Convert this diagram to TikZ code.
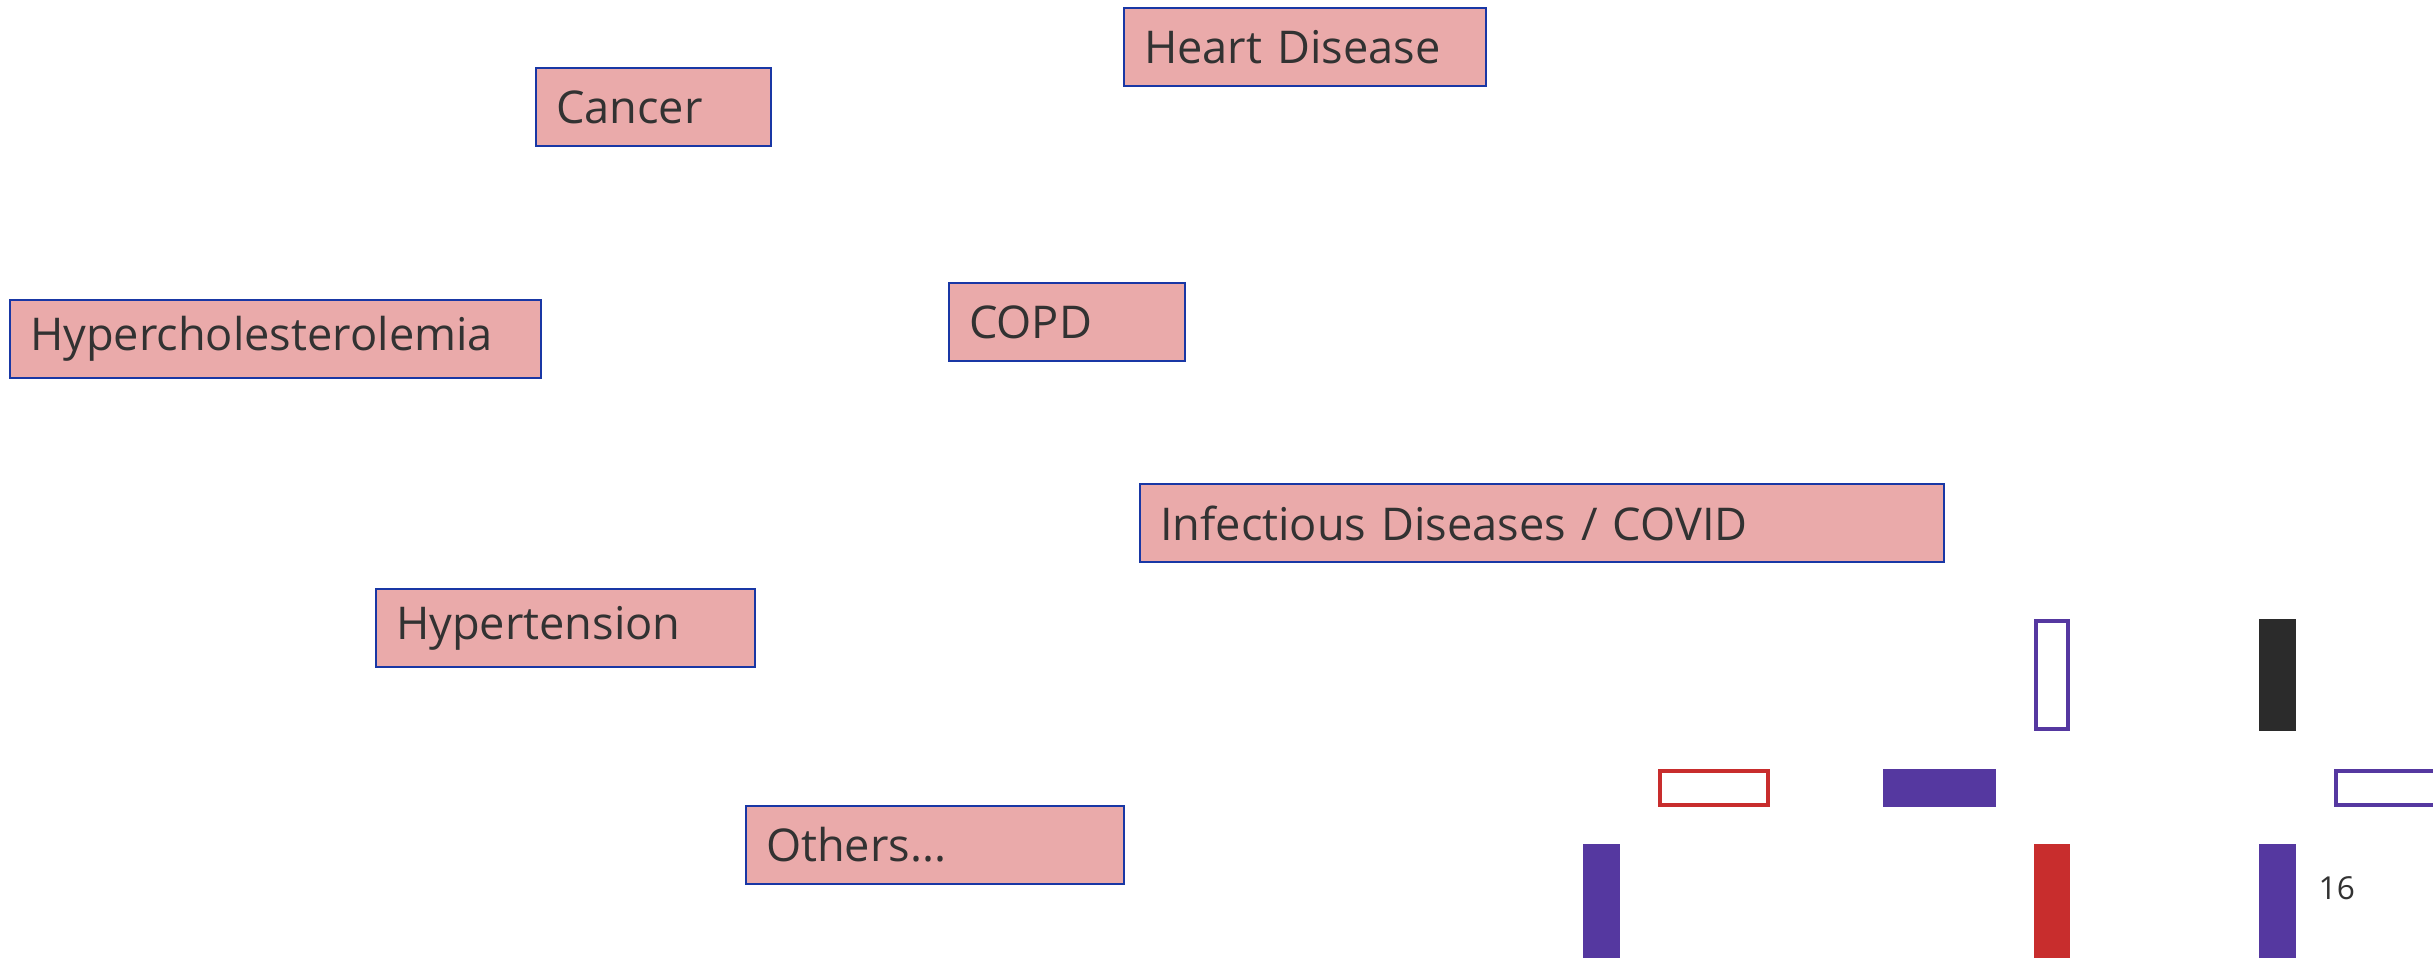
\documentclass[tikz,border=0pt]{standalone}
\usepackage{fontspec}
\setmainfont{Open Sans}
\usepackage{tikz}

\definecolor{condfill}{RGB}{234,170,170}
\definecolor{condline}{RGB}{25,55,165}
\definecolor{condtext}{RGB}{50,50,50}
\definecolor{barpurple}{RGB}{85,56,160}
\definecolor{barred}{RGB}{200,45,45}
\definecolor{barblack}{RGB}{43,43,43}

\tikzset{
  cond/.style={draw=condline, fill=condfill, line width=0.6pt, anchor=north west,
    align=left, inner xsep=0.2cm, inner ysep=0pt, minimum height=0.78cm,
    text=condtext, font=\fontsize{12.85}{15}\selectfont},
  hollowbar/.style={draw=#1, line width=0.9pt, fill=white},
  fullbar/.style={fill=#1},
}

\begin{document}
\begin{tikzpicture}
        \useasboundingbox (0,0) rectangle (24.33,9.58);

        % conditions
        \node[cond, text width=3.22cm] (heart) at (11.23,9.51) {Heart Disease};
        \node[cond, text width=1.95cm] (cancer) at (5.35,8.91) {Cancer};
        \node[cond, text width=4.91cm] (chol) at (0.09,6.59) {Hypercholesterolemia};
        \node[cond, text width=1.96cm] (copd) at (9.48,6.76) {COPD};
        \node[cond, text width=7.64cm] (infect) at (11.39,4.75) {Infectious Diseases / COVID};
        \node[cond, text width=3.39cm] (hyper) at (3.75,3.70) {Hypertension};
        \node[cond, text width=3.38cm] (others) at (7.45,1.53) {Others...};

        % bars
        \draw[hollowbar=barpurple] (20.36,2.29) rectangle (20.68,3.37);
        \fill[fullbar=barblack] (22.59,2.27) rectangle (22.96,3.39);
        \draw[hollowbar=barred] (16.60,1.53) rectangle (17.68,1.87);
        \fill[fullbar=barpurple] (18.83,1.51) rectangle (19.96,1.89);
        \draw[hollowbar=barpurple] (23.36,1.53) rectangle (24.60,1.87);
        \fill[fullbar=barpurple] (15.83,0) rectangle (16.20,1.14);
        \fill[fullbar=barred] (20.34,0) rectangle (20.70,1.14);
        \fill[fullbar=barpurple] (22.59,0) rectangle (22.96,1.14);

        \node[anchor=base west, inner sep=0pt, text=condtext, font=\fontsize{9}{11}\selectfont] (page) at (23.18,0.59) {16};
\end{tikzpicture}
\end{document}
